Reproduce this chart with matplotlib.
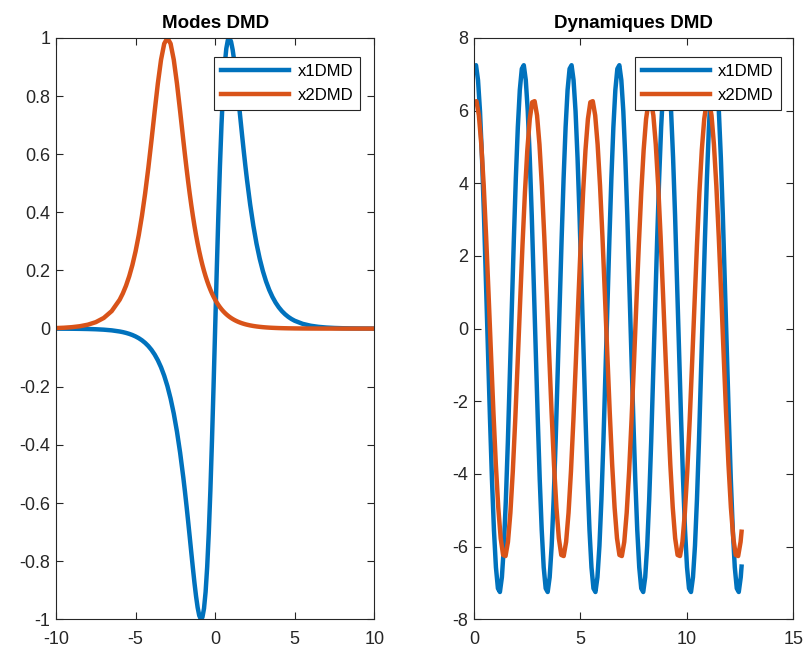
import numpy as np
import matplotlib
matplotlib.use("Agg")
import matplotlib.pyplot as plt

plt.rcParams['font.family'] = ['Liberation Sans', 'DejaVu Sans']
plt.rcParams['axes.unicode_minus'] = False

# ---------------- data: modes ----------------
x_modes = np.concatenate([
    np.linspace(-10, -6.5, 8),
    np.linspace(-6, -2.2, 20),
    np.linspace(-2, 1.9, 40),
    np.linspace(2, 4.8, 15),
    np.linspace(5, 10, 11),
])

x1_mode = [
    -0.00018, -0.0003, -0.00049, -0.00081, -0.00134, -0.00221, -0.00365, -0.00601,
    -0.00992, -0.01211, -0.01479, -0.01807, -0.02207, -0.02697, -0.03292, -0.04019,
    -0.04909, -0.05992, -0.07319, -0.08935, -0.10906, -0.13304, -0.16224, -0.19767,
    -0.24055, -0.29216, -0.35410, -0.42725,
    -0.51247, -0.55957, -0.60938, -0.66146, -0.71519, -0.76956, -0.82323, -0.87446,
    -0.92083, -0.95953, -0.98710, -0.99966, -0.99301, -0.96299, -0.90606, -0.81963,
    -0.70291, -0.55736, -0.38699, -0.19834, 0.0, 0.19834, 0.38699, 0.55736,
    0.70291, 0.81963, 0.90606, 0.96299, 0.99301, 0.99966, 0.98710, 0.95953,
    0.92083, 0.87446, 0.82323, 0.76956, 0.71519, 0.66146, 0.60938, 0.55957,
    0.51247, 0.42725, 0.35410, 0.29216, 0.24055, 0.19767, 0.16224, 0.13304,
    0.10906, 0.08935, 0.07319, 0.05992, 0.04909, 0.04019, 0.03292,
    0.02697, 0.01635, 0.00992, 0.00601, 0.00365, 0.00221, 0.00134, 0.00081,
    0.00049, 0.0003, 0.00018,
]

x2_mode = [
    0.00182, 0.00301, 0.00496, 0.00817, 0.01348, 0.02222, 0.03662, 0.06034,
    0.09933, 0.12117, 0.14773, 0.17996, 0.21892, 0.26580, 0.32180, 0.38798,
    0.46492, 0.55229, 0.64805, 0.74770, 0.84355, 0.92501, 0.98033, 1.0,
    0.98033, 0.92501, 0.84355, 0.74770,
    0.64805, 0.59933, 0.55229, 0.50738, 0.46492, 0.42510, 0.38798, 0.35357,
    0.32180, 0.29259, 0.26580, 0.24130, 0.21892, 0.19852, 0.17996, 0.16307,
    0.14773, 0.13381, 0.12117, 0.10971, 0.09933, 0.08992, 0.08139, 0.07366,
    0.06667, 0.06034, 0.05461, 0.04942, 0.04472, 0.04047, 0.03662, 0.03314,
    0.02998, 0.02713, 0.02455, 0.02222, 0.02010, 0.01819, 0.01646, 0.01489,
    0.01348, 0.01103, 0.00903, 0.00740, 0.00606, 0.00496, 0.00406, 0.00332,
    0.00272, 0.00223, 0.00182, 0.00149, 0.00122, 0.00100, 0.00082,
    0.00067, 0.00041, 0.00025, 0.00015, 0.00009, 0.00006, 0.00003, 0.00002,
    0.00001, 0.00001, 0.0,
]

# ---------------- data: dynamics ----------------
x1_dyn = [
    7.15, 7.25, 6.84, 5.98, 4.70, 3.11, 1.30, -0.60, -2.45, -4.14, -5.54, -6.57,
    -7.15, -7.25, -6.84, -5.98, -4.70, -3.11, -1.30, 0.60, 2.45, 4.14, 5.54, 6.57,
    7.15, 7.25, 6.84, 5.98, 4.70, 3.11, 1.30, -0.60, -2.45, -4.14, -5.54, -6.57,
    -7.15, -7.25, -6.84, -5.98, -4.70, -3.11, -1.30, 0.60, 2.45, 4.14, 5.54, 6.57,
    7.15, 7.25, 6.84, 5.98, 4.70, 3.11, 1.30, -0.60, -2.45, -4.14, -5.54, -6.57,
    -7.15, -7.25, -6.84, -5.98, -4.70, -3.11, -1.30, 0.60, 2.45, 4.14, 5.54, 6.57,
    7.15, 7.25, 6.84, 5.98, 4.70, 3.11, 1.30, -0.60, -2.45, -4.14, -5.54, -6.57,
    -7.15, -7.25, -6.84, -5.98, -4.70, -3.11, -1.30, 0.60, 2.45, 4.14, 5.54, 6.57,
    7.15, 7.25, 6.84, 5.98, 4.70, 3.11, 1.30, -0.60, -2.45, -4.14, -5.54, -6.57,
    -7.15, -7.25, -6.84, -5.98, -4.70, -3.11, -1.30, 0.60, 2.45, 4.14, 5.54, 6.57,
    7.15, 7.25, 6.84, 5.98, 4.70, 3.11, 1.30, -0.60, -2.45, -4.14, -5.54, -6.57,
    -7.15, -7.25, -6.84,
    -6.55,
]

x2_dyn = [
    6.23, 6.26, 5.87, 5.07, 3.93, 2.52, 0.94, -0.70, -2.30, -3.74, -4.92, -5.77,
    -6.23, -6.26, -5.87, -5.07, -3.93, -2.52, -0.94, 0.70, 2.30, 3.74, 4.92, 5.77,
    6.23, 6.26, 5.87, 5.07, 3.93, 2.52, 0.94, -0.70, -2.30, -3.74, -4.92, -5.77,
    -6.23, -6.26, -5.87, -5.07, -3.93, -2.52, -0.94, 0.70, 2.30, 3.74, 4.92, 5.77,
    6.23, 6.26, 5.87, 5.07, 3.93, 2.52, 0.94, -0.70, -2.30, -3.74, -4.92, -5.77,
    -6.23, -6.26, -5.87, -5.07, -3.93, -2.52, -0.94, 0.70, 2.30, 3.74, 4.92, 5.77,
    6.23, 6.26, 5.87, 5.07, 3.93, 2.52, 0.94, -0.70, -2.30, -3.74, -4.92, -5.77,
    -6.23, -6.26, -5.87, -5.07, -3.93, -2.52, -0.94, 0.70, 2.30, 3.74, 4.92, 5.77,
    6.23, 6.26, 5.87, 5.07, 3.93, 2.52, 0.94, -0.70, -2.30, -3.74, -4.92, -5.77,
    -6.23, -6.26, -5.87,
    -5.59,
]

t_end = 4 * np.pi
t1 = np.append(np.linspace(0, 134 * np.pi / 33.6, len(x1_dyn) - 1), t_end)
t2 = np.append(np.linspace(0, 110 * np.pi / 27.6, len(x2_dyn) - 1), t_end)

labels = ['x1DMD', 'x2DMD']
titles = ['Modes DMD', 'Dynamiques DMD']
mode_xticks = [-10, -5, 0, 5, 10]
mode_yticks = [-1, -0.8, -0.6, -0.4, -0.2, 0, 0.2, 0.4, 0.6, 0.8, 1]
mode_yticklabels = ['-1', '-0.8', '-0.6', '-0.4', '-0.2', '0', '0.2', '0.4', '0.6', '0.8', '1']
dyn_xticks = [0, 5, 10, 15]
dyn_yticks = [-8, -6, -4, -2, 0, 2, 4, 6, 8]

BLUE = '#0072BD'
ORANGE = '#D95319'
AX = '#262626'

fig = plt.figure(figsize=(8.07, 6.52), dpi=100)
ax1 = fig.add_axes([0.0694, 0.0502, 0.3944, 0.8916])
ax2 = fig.add_axes([0.5874, 0.0502, 0.3957, 0.8916])

lw = 3.2
ax1.plot(x_modes, x1_mode, color=BLUE, lw=lw, label=labels[0])
ax1.plot(x_modes, x2_mode, color=ORANGE, lw=lw, label=labels[1])
ax2.plot(t1, x1_dyn, color=BLUE, lw=lw, label=labels[0])
ax2.plot(t2, x2_dyn, color=ORANGE, lw=lw, label=labels[1])

ax1.set_xlim(-10, 10)
ax1.set_ylim(-1, 1)
ax1.set_xticks(mode_xticks)
ax1.set_xticklabels([str(v) for v in mode_xticks])
ax1.set_yticks(mode_yticks)
ax1.set_yticklabels(mode_yticklabels)

ax2.set_xlim(0, 15)
ax2.set_ylim(-8, 8)
ax2.set_xticks(dyn_xticks)
ax2.set_xticklabels([str(v) for v in dyn_xticks])
ax2.set_yticks(dyn_yticks)
ax2.set_yticklabels([str(v) for v in dyn_yticks])

for ax, title, lx in ((ax1, titles[0], 0.955), (ax2, titles[1], 0.961)):
    ax.set_title(title, fontsize=13.5, fontweight='bold', color='black', pad=7)
    for sp in ax.spines.values():
        sp.set_color(AX)
        sp.set_linewidth(0.8)
    ax.tick_params(direction='in', length=5, width=0.8, color=AX, labelcolor=AX,
                   labelsize=13, top=True, right=True)
    ax.tick_params(axis='y', pad=4)
    ax.tick_params(axis='x', pad=8.5)
    leg = ax.legend(loc='upper right', bbox_to_anchor=(lx, 0.967), borderaxespad=0,
                    fancybox=False, framealpha=1, edgecolor=AX, fontsize=12,
                    handlelength=4.1, handletextpad=0.5, labelspacing=0.55,
                    borderpad=0.42)
    leg.get_frame().set_linewidth(0.8)

fig.savefig('out.png', dpi=100)
